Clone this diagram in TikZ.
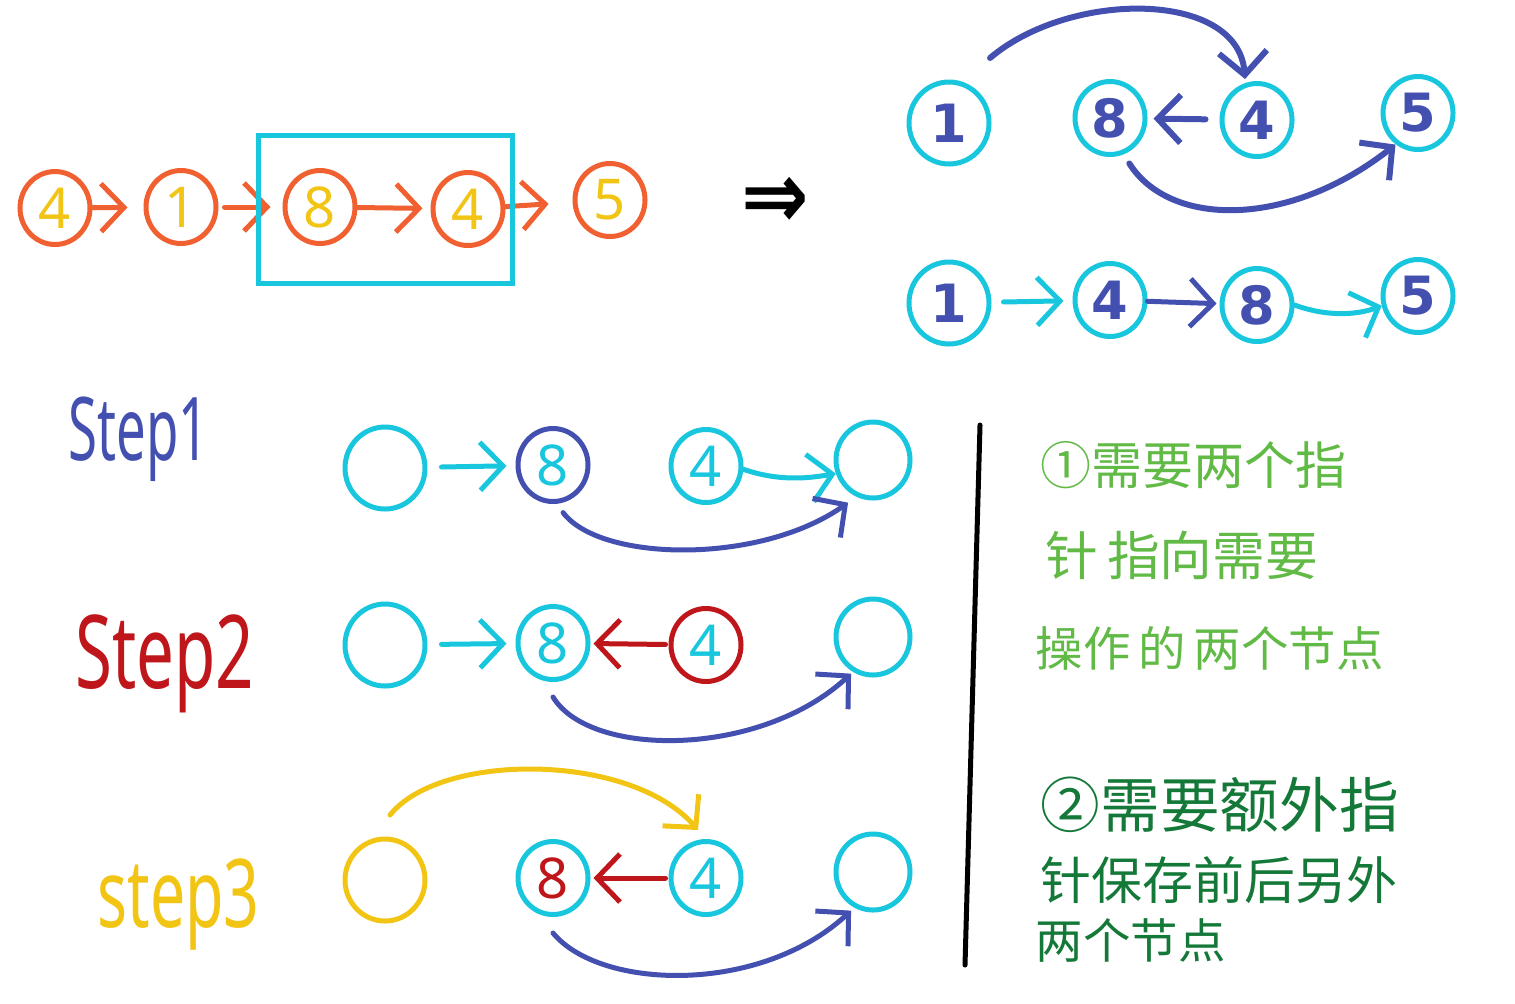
\documentclass[tikz,border=0pt]{standalone}
\usepackage{fontspec}
\setmainfont{Noto Sans}
\newfontfamily\cjk{Noto Sans CJK SC}
\newfontfamily\symf{DejaVu Sans}
\usetikzlibrary{arrows.meta, shapes.geometric}

\definecolor{orangeC}{RGB}{240,96,48}
\definecolor{yellowC}{RGB}{242,196,20}
\definecolor{cyanC}{RGB}{24,198,222}
\definecolor{indigoC}{RGB}{68,80,176}
\definecolor{redC}{RGB}{190,22,26}
\definecolor{greenL}{RGB}{98,186,70}
\definecolor{greenD}{RGB}{20,120,56}

\begin{document}
\begin{tikzpicture}[
  x=0.1mm, y=-0.1mm,
  ring/.style={ellipse, draw, line width=0.5mm, inner sep=0pt, minimum width=7mm, minimum height=7.3mm, font=\fontsize{16}{16}\selectfont},
  big/.style={minimum width=8mm, minimum height=8.2mm},
  heavy/.style={font=\symf\bfseries\fontsize{15}{15}\selectfont},
  arr/.style={-{Straight Barb[length=2.3mm,width=4.8mm]}, line width=0.5mm, line cap=round},
  steplbl/.style={anchor=base west, inner sep=0pt},
  note/.style={anchor=west, inner sep=0pt}
]
\useasboundingbox (0,0) rectangle (1515,1003);

% original list
\node[ring, draw=orangeC, text=yellowC] (o4) at (55,208) {4};
\node[ring, draw=orangeC, text=yellowC] (o1) at (181,207) {1};
\node[ring, draw=orangeC, text=yellowC] (o8) at (320,207) {8};
\node[ring, draw=orangeC, text=yellowC] (o4b) at (468,209) {4};
\node[ring, draw=orangeC, text=yellowC] (o5) at (610,200) {5};
\draw[arr, orangeC, shorten >=1.6mm] (o4) -- (o1);
\draw[arr, orangeC, shorten <=0.6mm, shorten >=1.2mm] (o1) -- (o8);
\draw[arr, orangeC, shorten >=0.8mm] (o8) -- (o4b);
\draw[arr, orangeC, shorten >=2.4mm] (o4b) -- (o5);
\draw[cyanC, line width=0.5mm] (258,135) rectangle (512,283);

\node[xscale=0.85] (goes) at (775,203) {\symf\bfseries\fontsize{27}{27}\selectfont ⇒};

% swapped, first view
\node[ring, big, heavy, draw=cyanC, text=indigoC] (a1) at (949,123) {1};
\node[ring, heavy, draw=cyanC, text=indigoC] (a8) at (1110,118) {8};
\node[ring, heavy, draw=cyanC, text=indigoC] (a4) at (1257,120) {4};
\node[ring, heavy, draw=cyanC, text=indigoC] (a5) at (1418,113) {5};
\coordinate (aStart) at (990,58);
\draw[arr, indigoC, line width=0.6mm] (aStart) .. controls (1070,-10) and (1238,-10) .. ([xshift=-1.2mm,yshift=0.2mm]a4.north);
\draw[arr, indigoC, line width=0.6mm, shorten <=1.4mm, shorten >=0.6mm] (a4) -- (a8);
\draw[arr, indigoC, line width=0.6mm] ([yshift=-1.2mm]a8.-60) .. controls (1170,228) and (1290,228) .. ([shift={(0.4mm,-0.4mm)}]a5.south west);

% swapped, second view
\node[ring, big, heavy, draw=cyanC, text=indigoC] (b1) at (949,303) {1};
\node[ring, heavy, draw=cyanC, text=indigoC] (b4) at (1110,300) {4};
\node[ring, heavy, draw=cyanC, text=indigoC] (b8) at (1257,305) {8};
\node[ring, heavy, draw=cyanC, text=indigoC] (b5) at (1418,296) {5};
\draw[arr, cyanC, shorten <=1.2mm, shorten >=0.9mm] (b1) -- (b4);
\draw[arr, indigoC, shorten >=0.3mm] (b4) -- (b8);
\draw[arr, cyanC] (b8.east) .. controls (1330,318) and (1360,314) .. (b5.195);

% step labels
\node[steplbl, text=indigoC, xscale=0.6] (lbl1) at (68,460) {\fontsize{25}{25}\selectfont Step1};
\node[steplbl, text=redC, xscale=0.66] (lbl2) at (75,688) {\fontsize{29}{29}\selectfont Step2};
\node[steplbl, text=yellowC, xscale=0.66] (lbl3) at (97,927) {\fontsize{27}{27}\selectfont step3};

% step 1
\node[ring, big, draw=cyanC] (s1a) at (385,468) {};
\node[ring, draw=indigoC, text=cyanC] (s1b) at (553,465) {8};
\node[ring, draw=cyanC, text=cyanC] (s1c) at (706,466) {4};
\node[ring, draw=cyanC, minimum width=7.4mm, minimum height=7.6mm] (s1d) at (873,460) {};
\draw[arr, cyanC, shorten <=1.4mm, shorten >=0.9mm] (s1a) -- (s1b);
\draw[arr, cyanC] (s1c.-5) .. controls (780,482) and (810,478) .. (s1d.200);
\draw[arr, indigoC] ([yshift=-1mm]s1b.-75) .. controls (600,562) and (760,565) .. ([shift={(0.3mm,-1.4mm)}]s1d.south west);

% step 2
\node[ring, big, draw=cyanC] (s2a) at (385,645) {};
\node[ring, draw=cyanC, text=cyanC] (s2b) at (553,643) {8};
\node[ring, draw=redC, text=cyanC] (s2c) at (706,645) {4};
\node[ring, draw=cyanC, minimum width=7.4mm, minimum height=7.6mm] (s2d) at (873,637) {};
\draw[arr, cyanC, shorten <=1.4mm, shorten >=0.9mm] (s2a) -- (s2b);
\draw[arr, redC, shorten <=0.3mm, shorten >=0.3mm] (s2c) -- (s2b);
\draw[arr, indigoC] ([yshift=-1.5mm]s2b.south) .. controls (590,758) and (760,758) .. ([shift={(0.6mm,-0.8mm)}]s2d.south west);

% step 3
\node[ring, big, draw=yellowC] (s3a) at (385,880) {};
\node[ring, draw=cyanC, text=redC] (s3b) at (553,878) {8};
\node[ring, draw=cyanC, text=cyanC] (s3c) at (706,878) {4};
\node[ring, draw=cyanC, minimum width=7.4mm, minimum height=7.6mm] (s3d) at (873,872) {};
\coordinate (yStart) at (390,815);
\draw[arr, yellowC] (yStart) .. controls (440,752) and (630,752) .. ([xshift=-0.8mm,yshift=0.9mm]s3c.north);
\draw[arr, redC, shorten <=0.3mm, shorten >=0.3mm] (s3c) -- (s3b);
\draw[arr, indigoC] ([yshift=-1.6mm]s3b.south) .. controls (600,990) and (760,995) .. ([shift={(0.6mm,-1mm)}]s3d.south west);

% divider
\draw[line width=0.5mm, line cap=round] (980,425) -- (965,965);

% notes
\node[note, text=greenL] (n1a) at (1040,465) {\cjk\fontsize{14.5}{14.5}\selectfont ①需要两个指};
\node[note, text=greenL] (n1b) at (1045,555) {\cjk\fontsize{15}{15}\selectfont 针\,指向需要};
\node[note, text=greenL] (n1c) at (1035,648) {\cjk\fontsize{13.5}{13.5}\selectfont 操作\,的\,两个节点};
\node[note, text=greenD] (n2a) at (1040,805) {\cjk\fontsize{17}{17}\selectfont ②需要额外指};
\node[note, text=greenD] (n2b) at (1040,880) {\cjk\fontsize{14.5}{14.5}\selectfont 针保存前后另外};
\node[note, text=greenD] (n2c) at (1035,940) {\cjk\fontsize{13.5}{13.5}\selectfont 两个节点};

\end{tikzpicture}
\end{document}
